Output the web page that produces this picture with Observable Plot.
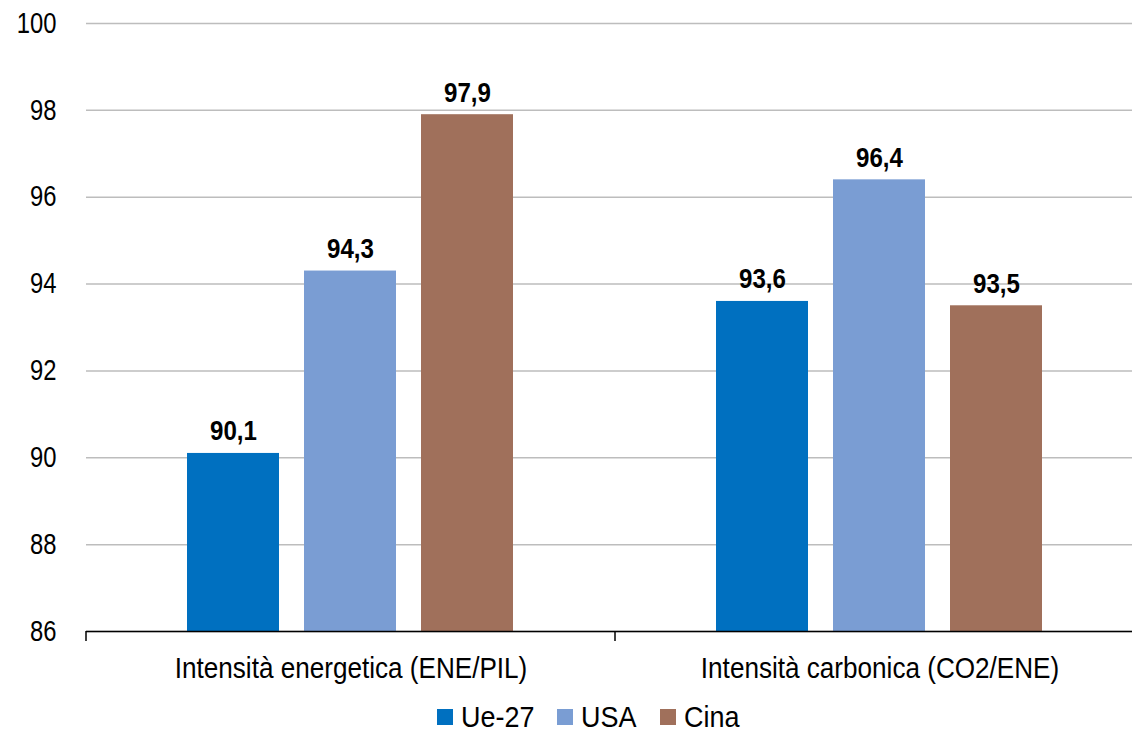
<!DOCTYPE html>
<html>
<head>
<meta charset="utf-8">
<script src="https://cdn.jsdelivr.net/npm/d3@7"></script>
<script src="https://cdn.jsdelivr.net/npm/@observablehq/plot@0.6"></script>
<style>
  html, body { margin: 0; padding: 0; background: #fff; overflow: hidden; width: 1132px; height: 734px; }
  #chart { width: 1144px; font-family: "Liberation Sans", Arial, sans-serif; }
  #chart svg { max-width: none !important; width: 1144px !important; height: 686px !important; display: block; }
  .legend { display: flex; justify-content: center; align-items: center; width: 1132px; padding-left: 44px; box-sizing: border-box; margin-top: 14px;
    font-family: "Liberation Sans", Arial, sans-serif; font-size: 29px; color: #000; line-height: 34px; }
  .legend .item { display: flex; align-items: center; gap: 8px; margin-right: 23px; }
  .legend .item:last-child { margin-right: 0; }
  .legend .sw { width: 16px; height: 16px; display: inline-block; }
  .legend .lbl { display: inline-block; overflow: visible; white-space: nowrap; }
  .legend .lbl span { display: inline-block; transform-origin: left center; }
</style>
</head>
<body>
<div id="chart"></div>
<script>
const categories = ["Intensità energetica (ENE/PIL)", "Intensità carbonica (CO2/ENE)"];
const series = ["Ue-27", "USA", "Cina"];
const colors = ["#0070c0", "#7a9dd3", "#a0705b"];
const energetica = [90.1, 94.3, 97.9];
const carbonica = [93.6, 96.4, 93.5];
const yTicks = [86, 88, 90, 92, 94, 96, 98, 100];

const values = [energetica, carbonica];
const data = [];
categories.forEach((c, i) => series.forEach((s, j) => data.push({cat: c, series: s, value: values[i][j]})));

const fmt = v => v.toFixed(1).replace(".", ",");
const font = '"Liberation Sans", Arial, sans-serif';

const plot = Plot.plot({
  width: 1144,
  height: 686,
  marginLeft: 85,
  marginRight: 0,
  marginTop: 23,
  marginBottom: 55,
  style: {fontFamily: font, color: "#000", background: "#fff"},
  fx: {domain: categories, padding: 0, label: null},
  x: {domain: series, paddingInner: 0.21, paddingOuter: 0.85, axis: null},
  y: {domain: [86, 100], label: null},
  color: {domain: series, range: colors},
  marks: [
    Plot.gridY(yTicks, {stroke: "#bdbdbd", strokeOpacity: 1, strokeWidth: 1.5}),
    Plot.axisY(yTicks, {tickSize: 0, tickPadding: 30, fontSize: 29, label: null, className: "ytick"}),
    Plot.axisFx({anchor: "bottom", tickSize: 0, tickPadding: 26, fontSize: 29, label: null, className: "fxtick"}),
    Plot.barY(data, {fx: "cat", x: "series", y1: 86, y2: "value", fill: "series"}),
    Plot.text(data, {fx: "cat", x: "series", y: "value", text: d => fmt(d.value), lineAnchor: "bottom", dy: -13, fontSize: 28, fontWeight: "bold", className: "vlabel"}),
    Plot.ruleY([86], {stroke: "#000", strokeWidth: 1.5})
  ]
});

// category separator ticks at the facet band edges, from the fx scale
const fx = plot.scale("fx");
const yS = plot.scale("y");
const y0 = yS.apply(86);
const bw = fx.bandwidth;
const edges = categories.map(c => fx.apply(c)).concat([fx.apply(categories[categories.length - 1]) + bw]);
const svg = d3.select(plot);
svg.append("g").selectAll("line").data(edges).join("line")
  .attr("x1", d => d).attr("x2", d => d)
  .attr("y1", y0).attr("y2", y0 + 10)
  .attr("stroke", "#000").attr("stroke-width", 1.5);

document.getElementById("chart").append(plot);

// condense texts horizontally (emulating a narrow Arial)
function condense(sel, k) {
  plot.querySelectorAll(sel).forEach(t => {
    const w = t.getComputedTextLength();
    if (w > 0) {
      t.setAttribute("textLength", (w * k).toFixed(2));
      t.setAttribute("lengthAdjust", "spacingAndGlyphs");
    }
  });
}
condense(".ytick text", 0.82);
condense(".fxtick text", 0.90);
condense(".vlabel text", 0.86);

const LEG = 0.93;
const legend = document.createElement("div");
legend.className = "legend";
document.body.append(legend);
series.forEach((s, i) => {
  const item = document.createElement("div");
  item.className = "item";
  const sw = document.createElement("span");
  sw.className = "sw";
  sw.style.background = colors[i];
  const lbl = document.createElement("span");
  lbl.className = "lbl";
  const inner = document.createElement("span");
  inner.textContent = s;
  lbl.append(inner);
  item.append(sw, lbl);
  legend.append(item);
  const w = inner.getBoundingClientRect().width;
  inner.style.transform = `scaleX(${LEG})`;
  lbl.style.width = (w * LEG) + "px";
});
</script>
</body>
</html>
